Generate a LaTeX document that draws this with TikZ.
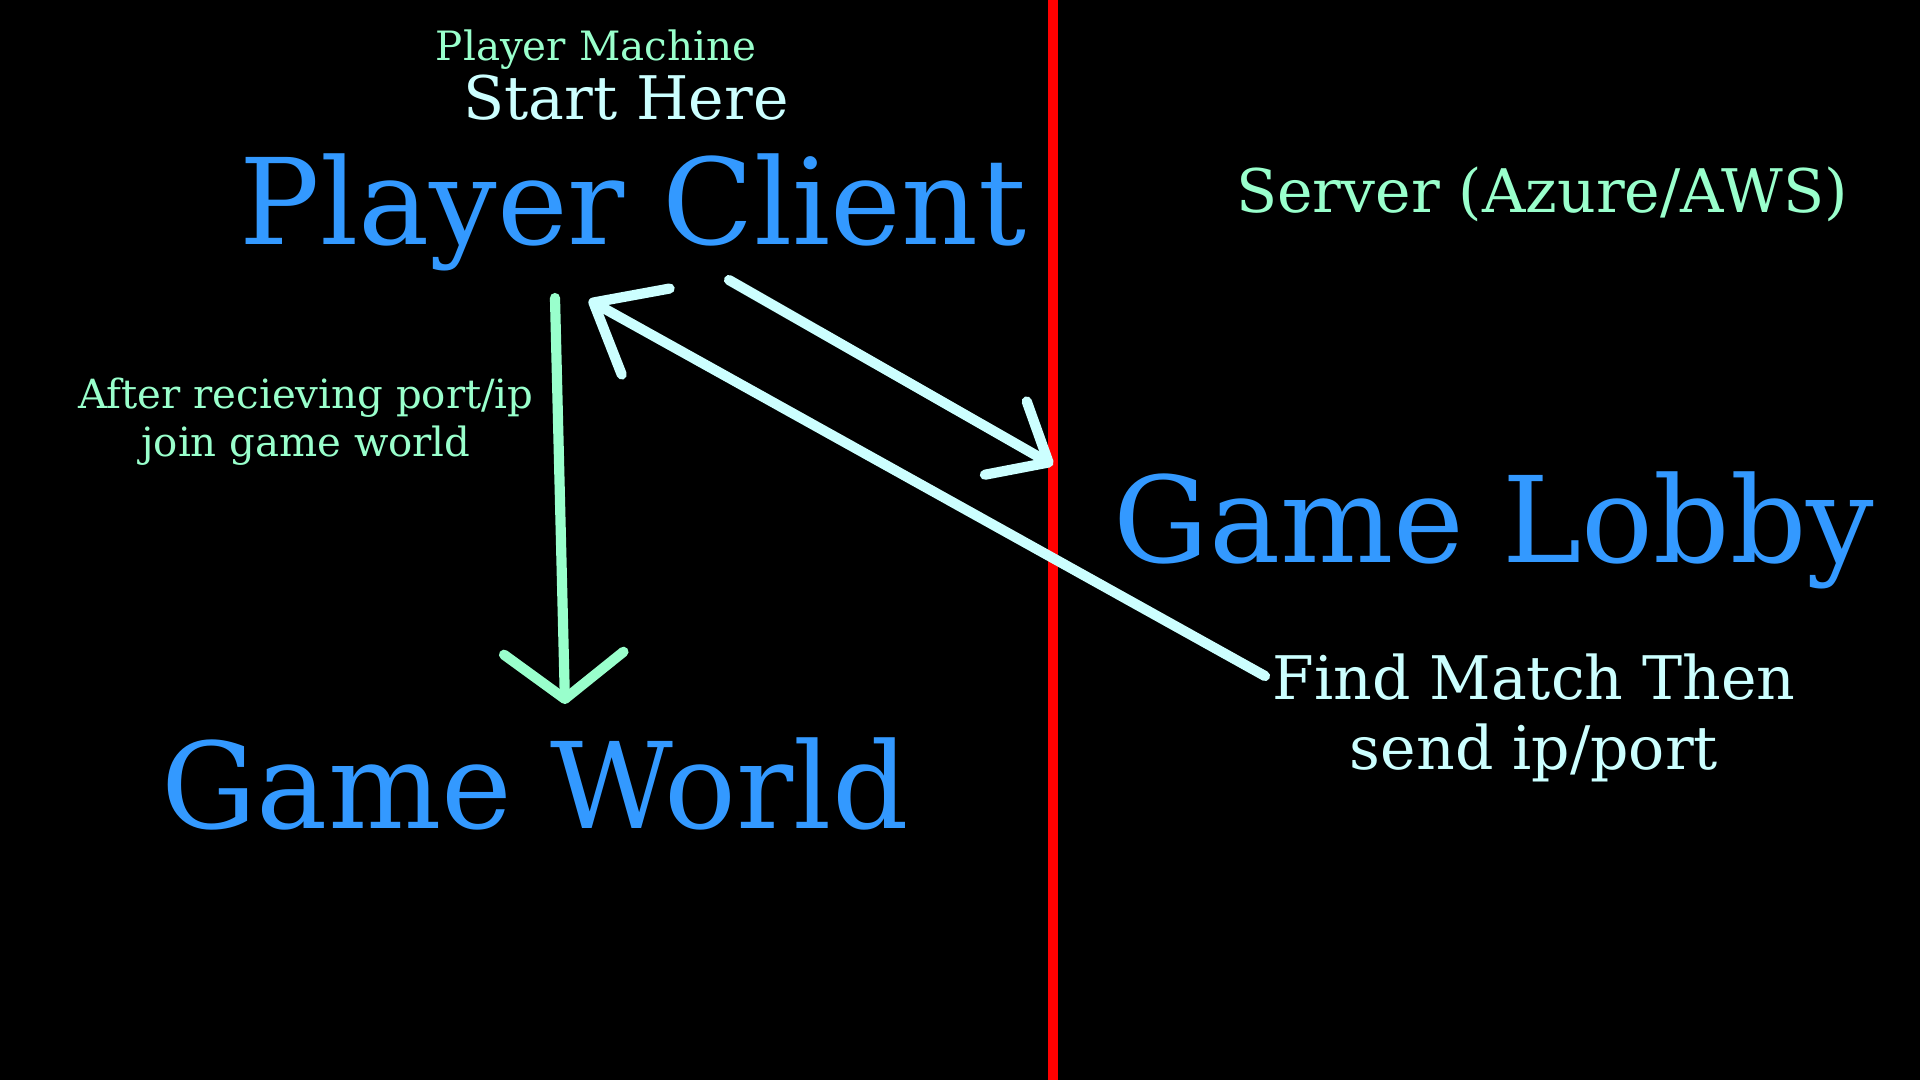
\documentclass[tikz,border=0pt]{standalone}
\usepackage{fontspec}
\setmainfont{DejaVu Serif}
\usetikzlibrary{arrows.meta}
\definecolor{titleblue}{HTML}{3399FF}
\definecolor{notegreen}{HTML}{99FFCC}
\definecolor{linkcyan}{HTML}{CCFFFF}
\begin{document}
\begin{tikzpicture}[x=0.1mm,y=-0.1mm,
  big node/.style={text=titleblue,font=\fontsize{34}{40}\selectfont,inner sep=0pt},
  note node/.style={text=notegreen,align=center,inner sep=0pt},
  msg node/.style={text=linkcyan,align=center,inner sep=0pt},
  link/.style={line width=2.9pt,line cap=round,line join=round,linkcyan},
  join link/.style={line width=2.9pt,line cap=round,line join=round,notegreen}]

  \fill[black] (0,0) rectangle (1920,1080);
  \useasboundingbox (0,0) rectangle (1920,1080);

  % machine / server split
  \coordinate (split top) at (1053,0);
  \coordinate (split bottom) at (1053,1080);
  \draw[red,line width=2.8pt] (split top) -- (split bottom);

  \node[note node,font=\fontsize{11.5}{14}\selectfont] (machine) at (596,50) {Player Machine};
  \node[msg node,font=\fontsize{17.1}{21}\selectfont] (start) at (626,98) {Start Here};
  \node[big node] (client) at (633,212) {Player Client};
  \node[note node,font=\fontsize{17.1}{21}\selectfont] (server) at (1542,194) {Server (Azure/AWS)};
  \node[note node,font=\fontsize{11.45}{13.6}\selectfont] (join note) at (306,422) {After recieving port/ip\\ join game world};
  \node[big node] (lobby) at (1494,530) {Game Lobby};
  \node[msg node,font=\fontsize{17.1}{19.9}\selectfont] (match note) at (1534,718) {Find Match Then\\ send ip/port};
  \node[big node] (world) at (535,784) {Game World};

  % arrow ends
  \coordinate (client out) at (729,280);
  \coordinate (lobby in) at (1053,465);
  \coordinate (lobby out) at (1265,676);
  \coordinate (client in) at (589,300);
  \coordinate (client down) at (555,298);
  \coordinate (world in) at (565,704);

  \path[link]
    (client out) edge[-{Straight Barb[round,length=14pt,width=24pt]}] (lobby in)
    (lobby out) edge[-{Straight Barb[round,length=17pt,width=28pt]}] (client in);
  \path[join link]
    (client down) edge[-{Straight Barb[round,length=13pt,width=34pt]}] (world in);
\end{tikzpicture}
\end{document}
